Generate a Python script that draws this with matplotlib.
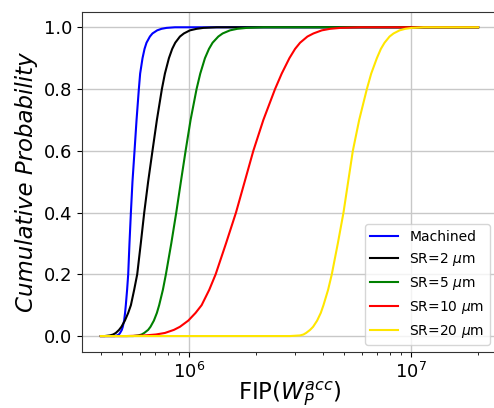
import numpy as np
import matplotlib
matplotlib.use("Agg")
import matplotlib.pyplot as plt

# cumulative probability levels shared by every curve
# (first / last entries are the flat tails at 0 and 1)
prob = [0.0, 0.0, 0.002, 0.005, 0.01, 0.02, 0.03, 0.05, 0.075, 0.1, 0.15,
        0.2, 0.3, 0.4, 0.5, 0.6, 0.7, 0.8, 0.85, 0.9, 0.93, 0.95, 0.97,
        0.98, 0.99, 0.995, 0.998, 1.0, 1.0]

# FIP value reached at each probability level
fip_machined = [4.0e5, 4.62e5, 4.73e5, 4.82e5, 4.88e5, 4.97e5, 5.02e5,
                5.09e5, 5.14e5, 5.18e5, 5.25e5, 5.31e5, 5.38e5, 5.46e5,
                5.55e5, 5.67e5, 5.79e5, 5.93e5, 6.01e5, 6.16e5, 6.29e5,
                6.42e5, 6.65e5, 6.83e5, 7.17e5, 7.50e5, 7.90e5, 8.62e5, 2.0e7]
fip_sr2 = [4.0e5, 4.16e5, 4.39e5, 4.54e5, 4.67e5, 4.83e5, 4.95e5, 5.13e5,
           5.31e5, 5.46e5, 5.65e5, 5.83e5, 6.05e5, 6.27e5, 6.53e5, 6.83e5,
           7.15e5, 7.53e5, 7.77e5, 8.10e5, 8.38e5, 8.65e5, 9.08e5, 9.46e5,
           1.007e6, 1.079e6, 1.157e6, 1.328e6, 2.0e7]
fip_sr5 = [4.0e5, 5.59e5, 5.89e5, 6.10e5, 6.27e5, 6.53e5, 6.69e5, 6.93e5,
           7.15e5, 7.32e5, 7.61e5, 7.85e5, 8.30e5, 8.74e5, 9.17e5, 9.63e5,
           1.014e6, 1.079e6, 1.121e6, 1.177e6, 1.227e6, 1.274e6, 1.352e6,
           1.414e6, 1.526e6, 1.646e6, 1.814e6, 2.157e6, 2.0e7]
fip_sr10 = [4.0e5, 5.22e5, 6.31e5, 7.07e5, 7.77e5, 8.53e5, 9.08e5, 9.90e5,
            1.068e6, 1.137e6, 1.231e6, 1.315e6, 1.464e6, 1.624e6, 1.777e6,
            1.944e6, 2.157e6, 2.435e6, 2.609e6, 2.826e6, 2.997e6, 3.157e6,
            3.407e6, 3.626e6, 3.954e6, 4.311e6, 4.783e6, 5.887e6, 2.0e7]
fip_sr20 = [4.0e5, 2.845e6, 3.157e6, 3.268e6, 3.360e6, 3.502e6, 3.613e6,
            3.767e6, 3.913e6, 4.023e6, 4.222e6, 4.386e6, 4.669e6, 4.952e6,
            5.197e6, 5.456e6, 5.827e6, 6.310e6, 6.600e6, 7.000e6, 7.297e6,
            7.580e6, 7.985e6, 8.323e6, 8.859e6, 9.396e6, 1.007e7, 1.137e7,
            2.0e7]

labels = ['Machined', r'SR=2 $\mu$m', r'SR=5 $\mu$m', r'SR=10 $\mu$m',
          r'SR=20 $\mu$m']
colors = ['blue', 'black', 'green', 'red', '#ffe600']

fig = plt.figure(figsize=(4.94, 4.08), dpi=100)
ax = fig.add_axes([0.166, 0.137, 0.840, 0.834])

for x, lab, c in zip([fip_machined, fip_sr2, fip_sr5, fip_sr10, fip_sr20],
                     labels, colors):
    ax.plot(x, prob, color=c, lw=1.5, label=lab)

ax.set_xscale('log')
ax.set_xlim(10**5.517, 10**7.386)
ax.set_ylim(-0.052, 1.05)
ax.set_yticks([0.0, 0.2, 0.4, 0.6, 0.8, 1.0])
ax.grid(True, color='#c8c8c8', lw=1)
ax.tick_params(labelsize=13)
for s in ax.spines.values():
    s.set_color('#333333')

ax.set_xlabel(r'FIP($W_P^{acc}$)', fontsize=16.5, labelpad=-2)
ax.set_ylabel('Cumulative Probability', fontsize=16.5, style='italic')
ax.legend(loc='lower right', fontsize=10)

fig.savefig('out.png', dpi=100)
